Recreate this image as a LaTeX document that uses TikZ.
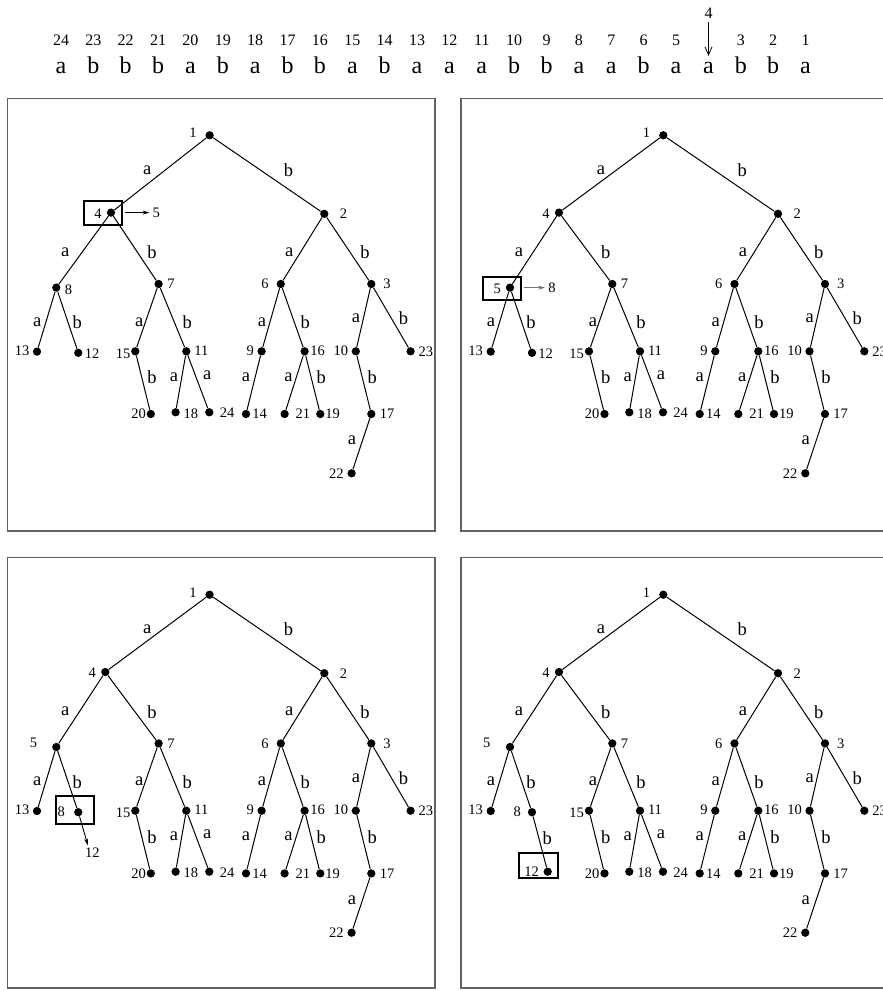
\documentclass[tikz,border=0pt]{standalone}
\usepackage{fontspec}
\setmainfont{Liberation Serif}
\usetikzlibrary{arrows.meta,calc}

\tikzset{
  dot/.style={circle,fill=black,inner sep=0pt,minimum size=8.3pt},
  num/.style={inner sep=0pt,font=\fontsize{14.5}{16}\selectfont},
  elab/.style={inner sep=0pt,font=\fontsize{18.5}{20}\selectfont},
  edge/.style={line width=1pt},
  frame/.style={draw=black!62,line width=1.3pt},
  hilite/.style={draw=black,line width=2pt,inner sep=0pt},
  ptr/.style={line width=0.9pt,-{Stealth[length=7pt,width=4pt]}},
  toplet/.style={anchor=base,inner sep=0pt,font=\fontsize{24}{26}\selectfont},
  topnum/.style={anchor=base,inner sep=0pt,font=\fontsize{16}{18}\selectfont},
}

% label placed relative to a dot: #1 name, #2 dot, #3 offset, #4 text
\newcommand\numlab[4]{\node[num] (#1) at ($(#2)+(#3)$) {#4};}

% the part of the trie shared by all four states
% #1 name prefix, #2 x position of node 4
\newcommand\commontree[2]{%
  \node[dot] (#1n1)  at (202.3,37)    {};
  \node[dot] (#1n4)  at (#2,114.3)    {};
  \node[dot] (#1n2)  at (317,115.5)   {};
  \node[dot] (#1nL)  at (49,189.3)    {};
  \node[dot] (#1n7)  at (151.3,185.7) {};
  \node[dot] (#1n6)  at (273.5,185.7) {};
  \node[dot] (#1n3)  at (364,185.7)   {};
  \node[dot] (#1n13) at (29.7,253.3)  {};
  \node[dot] (#1nR)  at (71,254.5)    {};
  \node[dot] (#1n15) at (128,253)     {};
  \node[dot] (#1n11) at (179,253)     {};
  \node[dot] (#1n9)  at (254.3,253)   {};
  \node[dot] (#1n16) at (297.3,253)   {};
  \node[dot] (#1n10) at (348.5,253)   {};
  \node[dot] (#1n23) at (403.3,253)   {};
  \node[dot] (#1n20) at (143.5,315.7) {};
  \node[dot] (#1n18) at (168.3,314)   {};
  \node[dot] (#1n24) at (202,314)     {};
  \node[dot] (#1n14) at (238.7,315.7) {};
  \node[dot] (#1n21) at (277.3,315.7) {};
  \node[dot] (#1n19) at (313,315.7)   {};
  \node[dot] (#1n17) at (364,315.7)   {};
  \node[dot] (#1n22) at (344.3,375)   {};
  \draw[edge] (#1n1)--(#1n4) (#1n1)--(#1n2)
    (#1n4)--(#1nL) (#1n4)--(#1n7) (#1n2)--(#1n6) (#1n2)--(#1n3)
    (#1nL)--(#1n13) (#1nL)--(#1nR) (#1n7)--(#1n15) (#1n7)--(#1n11)
    (#1n6)--(#1n9) (#1n6)--(#1n16) (#1n3)--(#1n10) (#1n3)--(#1n23)
    (#1n15)--(#1n20) (#1n11)--(#1n18) (#1n11)--(#1n24) (#1n9)--(#1n14)
    (#1n16)--(#1n21) (#1n16)--(#1n19) (#1n10)--(#1n17) (#1n17)--(#1n22);
  % edge letters
  \node[elab] (#1e14)   at (140,71.7)    {a};
  \node[elab] (#1e12)   at (281.3,71.7)  {b};
  \node[elab] (#1e4L)   at (58,154)      {a};
  \node[elab] (#1e47)   at (144.7,154)   {b};
  \node[elab] (#1e26)   at (282,154)     {a};
  \node[elab] (#1e23)   at (357.7,154)   {b};
  \node[elab] (#1eL13)  at (30,224)      {a};
  \node[elab] (#1eLR)   at (70,224)      {b};
  \node[elab] (#1e715)  at (132,224)     {a};
  \node[elab] (#1e711)  at (180,224)     {b};
  \node[elab] (#1e69)   at (254.7,224)   {a};
  \node[elab] (#1e616)  at (298,224)     {b};
  \node[elab] (#1e310)  at (348.7,220.3) {a};
  \node[elab] (#1e323)  at (396.3,220.3) {b};
  \node[elab] (#1e1520) at (144.7,279)   {b};
  \node[elab] (#1e1118) at (166.7,279)   {a};
  \node[elab] (#1e1124) at (200,276.7)   {a};
  \node[elab] (#1e914)  at (238.7,279)   {a};
  \node[elab] (#1e1621) at (281.3,279)   {a};
  \node[elab] (#1e1619) at (314,279)     {b};
  \node[elab] (#1e1017) at (365,279)     {b};
  \node[elab] (#1e1722) at (344.7,342.3) {a};
  % state numbers
  \numlab{#1l1}{#1n1}{-16.7,-2.3}{1}
  \numlab{#1l4}{#1n4}{-13,1}{4}
  \numlab{#1l2}{#1n2}{19.3,0}{2}
  \numlab{#1l7}{#1n7}{12.3,0}{7}
  \numlab{#1l6}{#1n6}{-15.7,0}{6}
  \numlab{#1l3}{#1n3}{15.7,0}{3}
  \numlab{#1l13}{#1n13}{-15,-1}{13}
  \numlab{#1l15}{#1n15}{-12.3,2}{15}
  \numlab{#1l11}{#1n11}{15,-1}{11}
  \numlab{#1l9}{#1n9}{-11.3,-1}{9}
  \numlab{#1l16}{#1n16}{13,-1}{16}
  \numlab{#1l10}{#1n10}{-15,-1}{10}
  \numlab{#1l23}{#1n23}{15.3,0}{23}
  \numlab{#1l20}{#1n20}{-12.3,0}{20}
  \numlab{#1l18}{#1n18}{15.3,1.3}{18}
  \numlab{#1l24}{#1n24}{17.7,0.7}{24}
  \numlab{#1l14}{#1n14}{13.7,0}{14}
  \numlab{#1l21}{#1n21}{18.3,0}{21}
  \numlab{#1l19}{#1n19}{12.3,0}{19}
  \numlab{#1l17}{#1n17}{15.7,0}{17}
  \numlab{#1l22}{#1n22}{-15.3,0}{22}
}

\begin{document}
\begin{tikzpicture}[x=1pt,y=-1pt]
\useasboundingbox (0,0) rectangle (883,991);
\clip (0,0) rectangle (883,991);

% the input string with positions
\foreach \i/\c in {24/a,23/b,22/b,21/b,20/a,19/b,18/a,17/b,16/b,15/a,14/b,13/a,
                   12/a,11/a,10/b,9/b,8/a,7/a,6/b,5/a,3/b,2/b,1/a}{
  \node[topnum] (num\i) at ({61+(24-\i)*32.37},45) {\i};
  \node[toplet] (let\i) at ({61+(24-\i)*32.37},73.3) {\c};
}
\node[topnum] (num4) at (708.5,18) {4};
\node[toplet] (let4) at (708.5,73.3) {a};
\draw[line width=0.8pt,-{Straight Barb[length=8pt,width=7pt]},shorten <=4pt,shorten >=6pt]
  (num4.south) -- (let4.north);

% frames
\draw[frame] (7.3,98.3) rectangle (435,531);
\draw[frame] (461,98.3) rectangle (888.7,531);
\draw[frame] (7.3,557.7) rectangle (435,988);
\draw[frame] (461,557.7) rectangle (888.7,988);

% state 1: node 4, next 5
\begin{scope}[shift={(7.3,98.3)}]
  \commontree{A}{103.7}
  \numlab{AlL}{AnL}{12.3,1.7}{8}
  \numlab{AlR}{AnR}{13.7,0.7}{12}
  \node[hilite,minimum width=38.4pt,minimum height=24pt] (Abox) at ($(An4)+(-8.2,0.7)$) {};
  \numlab{Anext}{An4}{45.3,0}{5}
  \draw[ptr,shorten <=1.6pt,shorten >=3pt] (Abox.east |- An4) -- (Anext.west);
\end{scope}

% state 2: node 5, next 8
\begin{scope}[shift={(461,98.3)}]
  \commontree{B}{98}
  \numlab{BlL}{BnL}{-12.7,1}{5}
  \numlab{BlR}{BnR}{13.7,0.7}{12}
  \node[hilite,minimum width=38.4pt,minimum height=23.3pt] (Bbox) at ($(BnL)+(-8.2,1)$) {};
  \numlab{Bnext}{BnL}{42,0}{8}
  \draw[ptr,draw=black!55,shorten <=1.6pt,shorten >=3pt] (Bbox.east |- BnL) -- (Bnext.west);
\end{scope}

% state 3: node 8, next 12
\begin{scope}[shift={(7.3,557.7)}]
  \commontree{C}{98}
  \numlab{ClL}{CnL}{-22.7,-4.3}{5}
  \node[hilite,minimum width=38.3pt,minimum height=28.3pt] (Cbox) at ($(CnR)+(-3.5,-2.5)$) {};
  \numlab{ClR}{CnR}{-17,0}{8}
  \coordinate (Ctip) at ($(CnR)+(9.6,33.3)$);
  \draw[ptr] (CnR) -- (Ctip);
  \numlab{Cnext}{CnR}{14,40}{12}
\end{scope}

% state 4: node 12
\begin{scope}[shift={(461,557.7)}]
  \commontree{D}{98}
  \numlab{DlL}{DnL}{-23.3,-4.3}{5}
  \numlab{DlR}{DnR}{-14.7,0}{8}
  \node[dot] (Dn12) at (86.7,314) {};
  \draw[edge] (DnR) -- (Dn12);
  \node[elab] (DeR12) at (86.3,280.6) {b};
  \node[hilite,minimum width=38.3pt,minimum height=25pt] (Dbox) at ($(Dn12)+(-9.2,-5.9)$) {};
  \numlab{Dl12}{Dn12}{-16,0}{12}
\end{scope}
\end{tikzpicture}
\end{document}
